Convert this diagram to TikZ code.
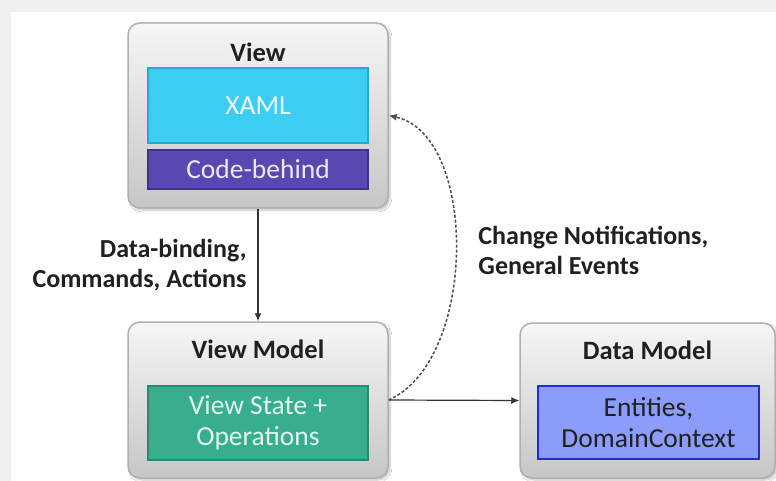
\documentclass[tikz,border=0pt]{standalone}
\usepackage{fontspec}
\setmainfont{Carlito}
\usetikzlibrary{arrows.meta, positioning, shadows.blur}
\definecolor{framegray}{HTML}{F0F0F0}
\definecolor{layertop}{HTML}{F6F6F6}
\definecolor{layerbottom}{HTML}{C6C6C6}
\definecolor{layerline}{HTML}{B0B0B0}
\definecolor{xamlfill}{HTML}{3DCDF2}
\definecolor{xamlline}{HTML}{22AAD0}
\definecolor{codefill}{HTML}{5B47B0}
\definecolor{codeline}{HTML}{40308F}
\definecolor{statefill}{HTML}{37AF8F}
\definecolor{stateline}{HTML}{2A8A70}
\definecolor{entityfill}{HTML}{8B9CFB}
\definecolor{entityline}{HTML}{1E2FD0}
\definecolor{inktext}{HTML}{202020}

\begin{document}
\begin{tikzpicture}[x=1pt, y=-1pt,
    layer/.style={draw=layerline, line width=1.5pt, rounded corners=12pt,
      top color=layertop, bottom color=layerbottom,
      blur shadow={shadow xshift=2pt, shadow yshift=-2pt, shadow opacity=25, shadow blur steps=6}},
    part/.style={line width=1.5pt, inner sep=0pt, minimum width=220pt, align=center,
      font=\fontsize{27.5}{31}\selectfont},
    title/.style={font=\fontsize{26.5}{30}\selectfont\bfseries, text=inktext, inner sep=0pt},
    flowlabel/.style={font=\fontsize{26}{30}\selectfont\bfseries, text=inktext, inner sep=0pt},
    flow/.style={draw=black!80, line width=1.2pt, -{Latex[length=8pt, width=7pt]}},
    notify/.style={draw=black!70, line width=1.5pt, dash pattern=on 3pt off 2pt,
      -{Latex[length=8pt, width=7pt]}}]
    % page frame
    \fill[framegray] (0,0) rectangle (776,481);
    \fill[white] (11,12) rectangle (776,481);
    \useasboundingbox (0,0) rectangle (776,481);

    % View layer
    \node[layer, minimum width=260pt, minimum height=185pt] (view) at (258,115.5) {};
    \node[title] (viewtitle) at (258,52) {View};
    \node[part, fill=xamlfill, draw=xamlline, text=white!92!xamlfill, minimum height=75pt] (xaml) at (258,105.5) {XAML};
    \node[part, fill=codefill, draw=codeline, text=white!88!codefill, minimum height=39pt] (code) at (258,169.5) {Code-behind};

    % View Model layer
    \node[layer, minimum width=260pt, minimum height=156pt] (vmodel) at (258,400) {};
    \node[title] (vmodeltitle) at (258,349) {View Model};
    \node[part, fill=statefill, draw=stateline, text=white!88!statefill, minimum height=74pt] (state) at (258,423) {View State +\\Operations};

    % Data Model layer
    \node[layer, minimum width=255pt, minimum height=155pt] (dmodel) at (647.5,400.5) {};
    \node[title] (dmodeltitle) at (647.5,350) {Data Model};
    \node[part, fill=entityfill, draw=entityline, text=inktext, minimum width=221pt, minimum height=73pt] (entity) at (648.5,422.5) {Entities,\\DomainContext};

    % connectors
    \draw[flow] (view) -- node[flowlabel, midway, left=11pt, align=right] (bindlabel) {Data-binding,\\Commands, Actions} (vmodel);
    \draw[flow] (vmodel.east) -- (dmodel.west);
    \draw[notify] (vmodel.east) .. controls (478,360) and (478,135) .. node[flowlabel, midway, right=22pt, align=left] (notelabel) {Change Notifications,\\General Events} (view.east);
\end{tikzpicture}
\end{document}
